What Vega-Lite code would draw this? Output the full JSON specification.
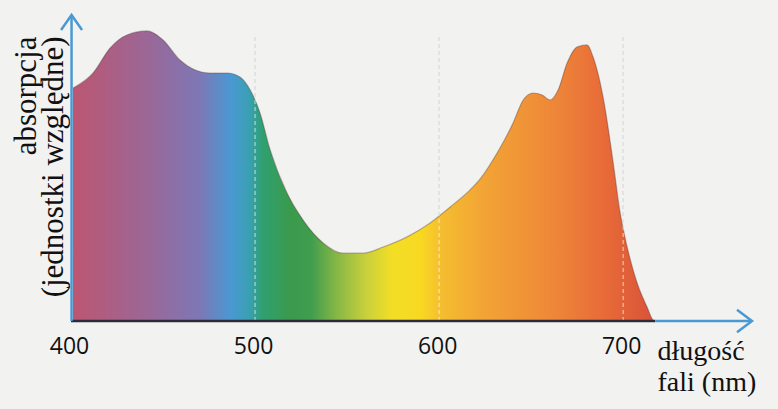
{
  "$schema": "https://vega.github.io/schema/vega-lite/v6.json",
  "width": 681,
  "height": 306,
  "autosize": {"type": "none"},
  "padding": {"left": 71, "top": 15, "right": 26, "bottom": 88},
  "background": "#f2f2f1",
  "config": {
    "view": {"stroke": null},
    "axis": {"domain": false, "ticks": false, "grid": false}
  },
  "datasets": {
    "spectrum": [
      {"nm": 401.1, "a": 80.3},
      {"nm": 412.0, "a": 85.5},
      {"nm": 421.2, "a": 94.1},
      {"nm": 430.4, "a": 98.6},
      {"nm": 441.3, "a": 100.0},
      {"nm": 450.0, "a": 96.9},
      {"nm": 459.2, "a": 90.0},
      {"nm": 466.3, "a": 86.9},
      {"nm": 475.5, "a": 85.5},
      {"nm": 484.8, "a": 85.5},
      {"nm": 491.8, "a": 84.1},
      {"nm": 497.3, "a": 79.7},
      {"nm": 502.7, "a": 71.7},
      {"nm": 508.2, "a": 59.0},
      {"nm": 517.4, "a": 44.1},
      {"nm": 526.1, "a": 34.8},
      {"nm": 537.0, "a": 26.9},
      {"nm": 547.8, "a": 23.4},
      {"nm": 558.7, "a": 23.4},
      {"nm": 569.6, "a": 25.5},
      {"nm": 582.6, "a": 29.0},
      {"nm": 595.1, "a": 33.8},
      {"nm": 606.0, "a": 39.3},
      {"nm": 616.8, "a": 45.2},
      {"nm": 622.3, "a": 49.0},
      {"nm": 631.5, "a": 57.9},
      {"nm": 640.2, "a": 68.3},
      {"nm": 645.7, "a": 76.2},
      {"nm": 651.1, "a": 78.6},
      {"nm": 656.0, "a": 77.9},
      {"nm": 660.3, "a": 76.2},
      {"nm": 664.7, "a": 79.7},
      {"nm": 669.6, "a": 89.0},
      {"nm": 675.0, "a": 94.5},
      {"nm": 680.4, "a": 95.2},
      {"nm": 683.7, "a": 91.0},
      {"nm": 689.1, "a": 77.2},
      {"nm": 694.6, "a": 54.5},
      {"nm": 698.4, "a": 37.2},
      {"nm": 702.2, "a": 25.5},
      {"nm": 707.6, "a": 13.1},
      {"nm": 713.0, "a": 4.8},
      {"nm": 716.3, "a": 0.3},
      {"nm": 717.4, "a": 0}
    ],
    "grid": [{"nm": 500}, {"nm": 600}, {"nm": 700}],
    "one": [{}]
  },
  "layer": [
    {
      "data": {"name": "grid"},
      "mark": {"type": "rule", "color": "#b4b4b4", "strokeWidth": 1, "strokeDash": [4, 3]},
      "encoding": {
        "x": {"field": "nm", "type": "quantitative", "scale": {"domain": [400, 770], "nice": false}},
        "y": {"datum": 0, "type": "quantitative", "scale": {"domain": [0, 105.5], "nice": false}},
        "y2": {"datum": 98.6}
      }
    },
    {
      "data": {"name": "spectrum"},
      "mark": {
        "type": "area",
        "interpolate": "monotone",
        "fill": {
          "gradient": "linear",
          "x1": 0, "y1": 0, "x2": 1, "y2": 0,
          "stops": [
            {"offset": 0.0, "color": "#bc5672"},
            {"offset": 0.133, "color": "#9a6898"},
            {"offset": 0.219, "color": "#7c78b6"},
            {"offset": 0.271, "color": "#4a98d2"},
            {"offset": 0.302, "color": "#3aa0b4"},
            {"offset": 0.326, "color": "#30a070"},
            {"offset": 0.374, "color": "#3a9a4c"},
            {"offset": 0.409, "color": "#3f9d4e"},
            {"offset": 0.452, "color": "#86b646"},
            {"offset": 0.503, "color": "#c8d03c"},
            {"offset": 0.547, "color": "#f2de26"},
            {"offset": 0.598, "color": "#f8d822"},
            {"offset": 0.633, "color": "#f5bd30"},
            {"offset": 0.702, "color": "#f2a535"},
            {"offset": 0.822, "color": "#ee8838"},
            {"offset": 0.909, "color": "#e86c38"},
            {"offset": 1.0, "color": "#d9523a"}
          ]
        }
      },
      "encoding": {
        "x": {
          "field": "nm", "type": "quantitative",
          "axis": {
            "values": [400, 500, 600, 700],
            "domain": false, "ticks": false, "grid": false,
            "labelFont": "Open Sans", "labelFontSize": 23, "labelColor": "#111111",
            "labelPadding": 14, "labelOffset": -2, "labelFlush": false, "labelOverlap": false,
            "title": ["długość", "fali (nm)"],
            "titleFont": "Liberation Serif", "titleFontSize": 28, "titleFontWeight": "normal",
            "titleColor": "#111111", "titleAlign": "left", "titleBaseline": "top",
            "titleX": 586, "titleY": 16, "titleLineHeight": 31
          }
        },
        "y": {
          "field": "a", "type": "quantitative",
          "axis": {
            "domain": false, "ticks": false, "labels": false, "grid": false,
            "title": ["absorpcja", "(jednostki względne)"],
            "titleFont": "Liberation Serif", "titleFontSize": 31, "titleFontWeight": "normal",
            "titleColor": "#111111", "titleAngle": 270, "titleAlign": "right", "titleBaseline": "middle",
            "titleX": -45, "titleY": 21, "titleLineHeight": 27
          }
        }
      }
    },
    {
      "data": {"name": "spectrum"},
      "mark": {"type": "line", "interpolate": "monotone", "color": "#4a2a2a", "opacity": 0.35, "strokeWidth": 1.2},
      "encoding": {
        "x": {"field": "nm", "type": "quantitative"},
        "y": {"field": "a", "type": "quantitative"}
      }
    },
    {
      "data": {"name": "grid"},
      "mark": {"type": "rule", "color": "#ffffff", "opacity": 0.7, "strokeWidth": 1, "strokeDash": [4, 3]},
      "encoding": {
        "x": {"field": "nm", "type": "quantitative"},
        "y": {"datum": 0, "type": "quantitative"},
        "y2": {"datum": 98.6}
      }
    },
    {
      "data": {"name": "one"},
      "mark": {"type": "rule", "color": "#2e2a3a", "strokeWidth": 2.5},
      "encoding": {
        "x": {"datum": 400, "type": "quantitative"},
        "x2": {"datum": 717.4},
        "y": {"datum": 0, "type": "quantitative"}
      }
    },
    {
      "data": {"name": "one"},
      "mark": {"type": "rule", "color": "#4a9ad2", "strokeWidth": 2.5},
      "encoding": {
        "x": {"datum": 717.4, "type": "quantitative"},
        "x2": {"datum": 769.5},
        "y": {"datum": 0, "type": "quantitative"}
      }
    },
    {
      "data": {"name": "one"},
      "mark": {"type": "rule", "color": "#4a9ad2", "strokeWidth": 2.5},
      "encoding": {
        "x": {"datum": 400.3, "type": "quantitative"},
        "y": {"datum": 0, "type": "quantitative"},
        "y2": {"datum": 105.3}
      }
    },
    {
      "data": {"name": "one"},
      "mark": {"type": "point", "shape": "M-1,-0.75L0,0L-1,0.75", "size": 900, "filled": false, "color": "#4a9ad2", "strokeWidth": 2.5, "opacity": 1},
      "encoding": {
        "x": {"datum": 770, "type": "quantitative"},
        "y": {"datum": 0, "type": "quantitative"}
      }
    },
    {
      "data": {"name": "one"},
      "mark": {"type": "point", "shape": "M-0.7,1L0,0L0.7,1", "size": 900, "filled": false, "color": "#4a9ad2", "strokeWidth": 2.5, "opacity": 1},
      "encoding": {
        "x": {"datum": 400.3, "type": "quantitative"},
        "y": {"datum": 105.5, "type": "quantitative"}
      }
    }
  ]
}
